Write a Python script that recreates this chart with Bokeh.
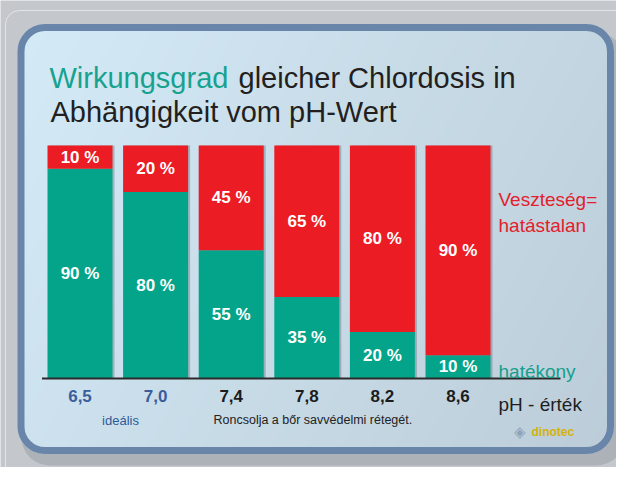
import numpy as np
from bokeh.plotting import figure
from bokeh.models import ColumnDataSource, Range1d, Label, BoxAnnotation
from bokeh.core.properties import value
from bokeh.transform import dodge
from bokeh.embed import file_html
from bokeh.resources import INLINE

# ---- data ----
ph_labels = ["6,5", "7,0", "7,4", "7,8", "8,2", "8,6"]
effective = [90, 80, 55, 35, 20, 10]   # hatékony (teal)
loss = [10, 20, 45, 65, 80, 90]        # Veszteség = hatástalan (red)
tick_colors = ["#3b5d9c", "#3b5d9c", "#1c1c1c", "#1c1c1c", "#1c1c1c", "#1c1c1c"]

W, H = 616, 467
STEP = 75.6      # px between bar centres
X0 = 79.5        # px of first bar centre
Y0 = 378         # px of 0 %
YS = 2.33        # px per percent
FONT = "Liberation Sans"


def fx(rx):
    return (rx - X0) / STEP


def fy(ry):
    return (Y0 - ry) / YS


p = figure(width=W, height=H, output_backend="svg", toolbar_location=None,
           x_range=Range1d(fx(0), fx(W)), y_range=Range1d(fy(H), fy(0)),
           x_axis_location=None, y_axis_location=None, min_border=0,
           outline_line_color=None, background_fill_color="#c4c7cc",
           border_fill_color="#c4c7cc")
p.xgrid.visible = False
p.ygrid.visible = False


def box(l, t, r, b, level="image", **kw):
    return BoxAnnotation(left=fx(l), right=fx(r), top=fy(t), bottom=fy(b),
                         level=level, **kw)


# page decorations
p.add_layout(box(5, 10, 640, 520, fill_alpha=0, line_color="#e3e5e8",
                 line_alpha=1, line_width=1, border_radius=14))
p.add_layout(box(21, 32, 624, 465, fill_color="#858b93", fill_alpha=0.35,
                 line_alpha=0, border_radius=28))

# panel gradient (rounded)
PL, PT, PR, PB = 17.5, 24, 613, 453
pw, ph = int(PR - PL), int(PB - PT)
yy, xx = np.mgrid[0:ph, 0:pw] + 0.5
rad = 26
cx = np.clip(xx, rad, pw - rad)
cy = np.clip(yy, rad, ph - rad)
inside = (xx - cx) ** 2 + (yy - cy) ** 2 <= rad ** 2
t = np.clip(0.72 * xx / pw + 0.28 * yy / ph, 0, 1)
c1 = np.array([0xd4, 0xeb, 0xf7], dtype=float)
c2 = np.array([0xbc, 0xcd, 0xd9], dtype=float)
rgb = c1[None, None, :] * (1 - t[..., None]) + c2[None, None, :] * t[..., None]
img = np.zeros((ph, pw), dtype=np.uint32)
view = img.view(dtype=np.uint8).reshape((ph, pw, 4))
view[..., 0:3] = rgb.astype(np.uint8)
view[..., 3] = (inside * 255).astype(np.uint8)
img = img[::-1].copy()
p.image_rgba(image=[img], x=fx(PL), y=fy(PB), dw=fx(PR) - fx(PL),
             dh=fy(PT) - fy(PB), level="underlay")

p.add_layout(box(PL + 3, PT + 3, PR - 3, PB - 3, level="underlay", fill_alpha=0,
                 line_color="#6a85aa", line_alpha=1, line_width=7,
                 border_radius=24))

x = list(range(len(ph_labels)))
total = [e + l for e, l in zip(effective, loss)]
src = ColumnDataSource(dict(
    x=x, effective=effective, loss=loss, total=total, ph=ph_labels,
    tick_color=tick_colors,
    mid_eff=[e / 2 for e in effective],
    mid_loss=[e + l / 2 for e, l in zip(effective, loss)],
    eff_txt=[f"{e} %" for e in effective],
    loss_txt=[f"{l} %" for l in loss],
))

bw = 65 / STEP
# soft shadow on the right of each bar
p.vbar(x=dodge("x", 2 / STEP), top="total", bottom=0, width=bw, source=src,
       fill_color="#5f6b75", fill_alpha=0.4, line_color=None)
p.vbar_stack(["effective", "loss"], x="x", width=bw, source=src,
             fill_color=["#04a48a", "#ec1c24"], line_color=None)

p.segment(x0=fx(41.5), y0=0, x1=fx(560), y1=0, line_color="#2a2a2a", line_width=2)

txt = dict(text_font=value(FONT), text_font_style="bold", text_font_size="17px",
           text_color="white", text_align="center", text_baseline="middle")
p.text(x="x", y="mid_eff", text="eff_txt", source=src, **txt)
p.text(x="x", y="mid_loss", text="loss_txt", source=src, **txt)

p.text(x="x", y=fy(395.5), text="ph", source=src, text_font=value(FONT),
       text_font_style="bold", text_font_size="17px", text_color="tick_color",
       text_align="center", text_baseline="middle")


def lab(rx, ry, text, color, size, align="left", style="normal", baseline="alphabetic"):
    p.add_layout(Label(x=fx(rx), y=fy(ry), text=text, text_color=color,
                       text_font=FONT, text_font_size=size, text_align=align,
                       text_font_style=style, text_baseline=baseline))


lab(49, 77.5, "Wirkungsgrad", "#17a28f", "29px")
lab(238, 77.5, "gleicher Chlordosis in", "#231f20", "29px")
lab(50, 111.7, "Abhängigkeit vom pH-Wert", "#231f20", "29px")

lab(498, 198.5, "Veszteség=", "#e3212b", "19px")
lab(498, 224.5, "hatástalan", "#e3212b", "19px")
lab(498, 371, "hatékony", "#14a08c", "19px")
lab(498, 404, "pH - érték", "#1e1e1e", "19px")

lab(120, 419.5, "ideális", "#2c5c98", "13px", align="center")
lab(213, 419.5, "Roncsolja a bőr savvédelmi rétegét.", "#222222", "12.5px")

lab(519, 431, "◈", "#8ea2b8", "15px", align="center", baseline="middle")
lab(531, 431, "dinotec", "#d4b20a", "12px", style="bold", baseline="middle")

open("out.html", "w").write(file_html(p, INLINE))
